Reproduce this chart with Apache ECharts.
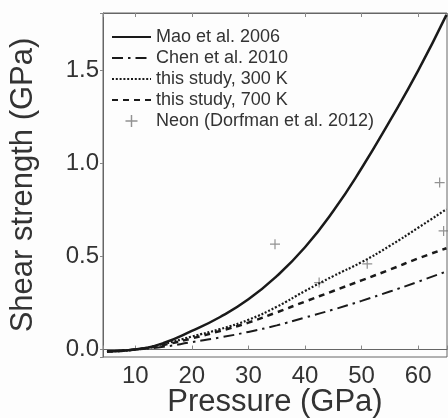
<!DOCTYPE html>
<html>
<head>
<meta charset="utf-8">
<script src="https://cdn.jsdelivr.net/npm/echarts@6/dist/echarts.min.js"></script>
<style>
  html, body { margin: 0; padding: 0; background: #fdfdfd; }
  #chart { width: 448px; height: 418px; }
</style>
</head>
<body>
<div id="chart"></div>
<script>
// pressure (GPa) sampling points
const pressure = [5, 10, 15, 20, 25, 30, 35, 40, 45, 50, 55, 60, 65];
// shear strength (GPa)
const mao2006 = [-0.01, 0.0, 0.035, 0.10, 0.175, 0.27, 0.395, 0.55, 0.745, 0.975, 1.23, 1.50, 1.80];
const chen2010 = [-0.01, 0.0, 0.015, 0.04, 0.065, 0.095, 0.13, 0.172, 0.215, 0.262, 0.312, 0.365, 0.42];
const study300 = [-0.01, 0.0, 0.03, 0.07, 0.11, 0.16, 0.23, 0.315, 0.395, 0.47, 0.558, 0.655, 0.755];
const study700 = [-0.01, 0.0, 0.025, 0.06, 0.10, 0.145, 0.20, 0.258, 0.315, 0.372, 0.43, 0.49, 0.545];
// Neon data points (Dorfman et al. 2012)
const neonP = [34.7, 42.5, 51.0, 63.8, 64.5];
const neonS = [0.567, 0.36, 0.461, 0.898, 0.638];

const pairs = (xs, ys) => xs.map((x, i) => [x, ys[i]]);

const chart = echarts.init(document.getElementById("chart"));

const plusIcon = "path://M4.4,0h1.2v4.4h4.4v1.2h-4.4v4.4h-1.2v-4.4h-4.4v-1.2h4.4z";
const font = "Liberation Sans";
const lineNoMark = { opacity: 0 };

const option = {
  backgroundColor: "#fdfdfd",
  animation: false,
  grid: {
    left: 103,
    top: 13,
    right: 1,
    bottom: 61,
    outerBoundsMode: "none",
    containLabel: false,
    show: true,
    borderColor: "#666",
    borderWidth: 1,
  },
  legend: {
    orient: "vertical",
    left: 106,
    top: 23,
    itemWidth: 39,
    itemHeight: 12,
    itemGap: 3,
    textStyle: {
      fontFamily: font,
      fontSize: 18,
      lineHeight: 18,
      color: "#333",
    },
    data: [
      { name: "Mao et al. 2006", itemStyle: lineNoMark },
      { name: "Chen et al. 2010", itemStyle: lineNoMark },
      { name: "this study, 300 K", itemStyle: lineNoMark },
      { name: "this study, 700 K", itemStyle: lineNoMark },
      { name: "Neon (Dorfman et al. 2012)" },
    ],
  },
  xAxis: [
    {
      type: "value",
      min: 4.3,
      max: 65.1,
      minInterval: 10,
      maxInterval: 10,
      name: "Pressure (GPa)",
      nameLocation: "middle",
      nameGap: 30,
      nameMoveOverlap: false,
      nameTextStyle: { fontFamily: font, fontSize: 31, color: "#333" },
      axisLine: { lineStyle: { color: "#666" } },
      axisTick: { inside: true, length: 4, lineStyle: { color: "#888" } },
      axisLabel: {
        fontFamily: font,
        fontSize: 24,
        color: "#333",
        margin: 7,
        formatter: (v) => (v % 10 === 0 ? String(v) : ""),
      },
      splitLine: { show: false },
    },
    {
      type: "value",
      position: "top",
      min: 4.3,
      max: 65.1,
      minInterval: 10,
      maxInterval: 10,
      axisLine: { lineStyle: { color: "#666" } },
      axisTick: { inside: true, length: 4, lineStyle: { color: "#888" } },
      axisLabel: { show: false },
      splitLine: { show: false },
    },
  ],
  yAxis: {
    type: "value",
    min: -0.04,
    max: 1.81,
    minInterval: 0.5,
    maxInterval: 0.5,
    name: "Shear strength (GPa)",
    nameLocation: "middle",
    nameGap: 64,
    nameMoveOverlap: false,
    nameTextStyle: { fontFamily: font, fontSize: 31, color: "#333" },
    axisLine: { lineStyle: { color: "#666" } },
    axisTick: { length: 3, lineStyle: { color: "#888" } },
    axisLabel: {
      fontFamily: font,
      fontSize: 24,
      color: "#333",
      margin: 4,
      formatter: (v) => (Math.abs(v * 2 - Math.round(v * 2)) < 1e-6 ? v.toFixed(1) : ""),
    },
    splitLine: { show: false },
  },
  series: [
    {
      name: "Mao et al. 2006",
      type: "line",
      symbol: "none",
      smooth: 0.5,
      data: pairs(pressure, mao2006),
      lineStyle: { color: "#1a1a1a", width: 2.5 },
      itemStyle: { color: "#1a1a1a" },
    },
    {
      name: "Chen et al. 2010",
      type: "line",
      symbol: "none",
      smooth: 0.5,
      data: pairs(pressure, chen2010),
      lineStyle: { color: "#1a1a1a", width: 2, type: [11, 5, 2.5, 5] },
      itemStyle: { color: "#1a1a1a" },
    },
    {
      name: "this study, 300 K",
      type: "line",
      symbol: "none",
      smooth: 0.5,
      data: pairs(pressure, study300),
      lineStyle: { color: "#1a1a1a", width: 2.2, type: [2, 1.8] },
      itemStyle: { color: "#1a1a1a" },
    },
    {
      name: "this study, 700 K",
      type: "line",
      symbol: "none",
      smooth: 0.5,
      data: pairs(pressure, study700),
      lineStyle: { color: "#1a1a1a", width: 2.5, type: [6, 5] },
      itemStyle: { color: "#1a1a1a" },
    },
    {
      name: "Neon (Dorfman et al. 2012)",
      type: "scatter",
      symbol: plusIcon,
      symbolSize: 10,
      data: pairs(neonP, neonS),
      itemStyle: { color: "#777" },
    },
  ],
};

chart.setOption(option);
</script>
</body>
</html>
